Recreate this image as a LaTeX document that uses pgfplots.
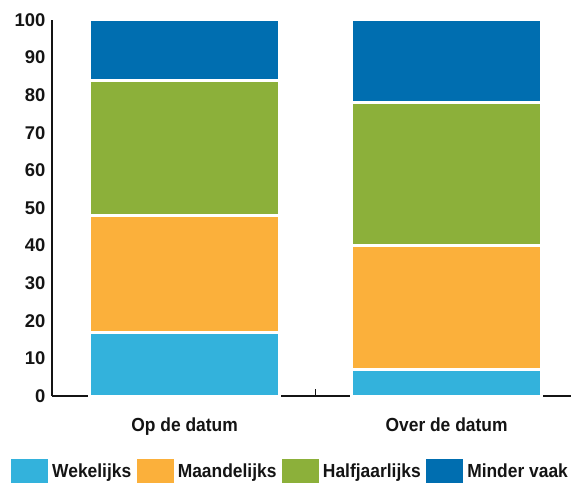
\documentclass[border=0pt]{standalone}
\usepackage{pgfplots}
\pgfplotsset{compat=1.18}
\usepackage{fontspec}
\setmainfont{Liberation Sans}
\newfontfamily\cond[FakeStretch=0.92]{Liberation Sans}
\definecolor{cA}{RGB}{51,178,220}
\definecolor{cB}{RGB}{251,176,59}
\definecolor{cC}{RGB}{140,176,58}
\definecolor{cD}{RGB}{0,110,176}
\definecolor{txt}{RGB}{20,20,20}
\begin{document}
\begin{tikzpicture}
\begin{axis}[
  scale only axis,
  width=519bp, height=376bp,
  ybar stacked,
  bar width=0.725,
  xmin=-0.506, xmax=1.475,
  ymin=0, ymax=100,
  enlargelimits=false,
  axis lines*=left,
  axis line style={line width=1.2bp, color=txt},
  ytick={0,10,...,100},
  ytick style={draw=none},
  yticklabel style={font=\fontsize{18.5}{18.5}\selectfont\bfseries, text=txt, xshift=-3bp},
  /pgf/number format/assume math mode=true,
  xtick={0.5},
  xticklabels={},
  xtick style={line width=1.2bp, color=txt},
  major tick length=7bp,
  tick align=inside,
  extra x ticks={0,1},
  extra x tick labels={Op de datum,Over de datum},
  extra x tick style={major tick length=0pt, tick label style={font=\cond\fontsize{19}{19}\selectfont\bfseries, text=txt, yshift=-18bp}},
  every axis plot/.append style={draw=white, line width=3bp},
  legend columns=4,
  legend style={at={(rel axis cs:0,0)}, anchor=north west, xshift=-41bp, yshift=-63bp, draw=none, fill=none, inner sep=0pt, font=\cond\fontsize{19}{19}\selectfont\bfseries, text=txt, nodes={inner sep=2bp}, /tikz/every even column/.append style={column sep=3.5bp}, /tikz/every odd column/.append style={column sep=2bp}},
  legend image code/.code={\fill[#1, draw=none] (0bp,-20bp) rectangle (37bp,12bp);},
  clip=false,
]
\addplot[fill=cA] coordinates {(0,17) (1,7)};
\addplot[fill=cB] coordinates {(0,31) (1,33)};
\addplot[fill=cC] coordinates {(0,36) (1,38)};
\addplot[fill=cD] coordinates {(0,16) (1,22)};
\legend{Wekelijks,Maandelijks,Halfjaarlijks,Minder vaak}
\end{axis}
\pgfresetboundingbox
\path (current axis.south west) ++(-52bp,-87bp) rectangle ++(571bp,483bp);
\end{tikzpicture}
\end{document}
